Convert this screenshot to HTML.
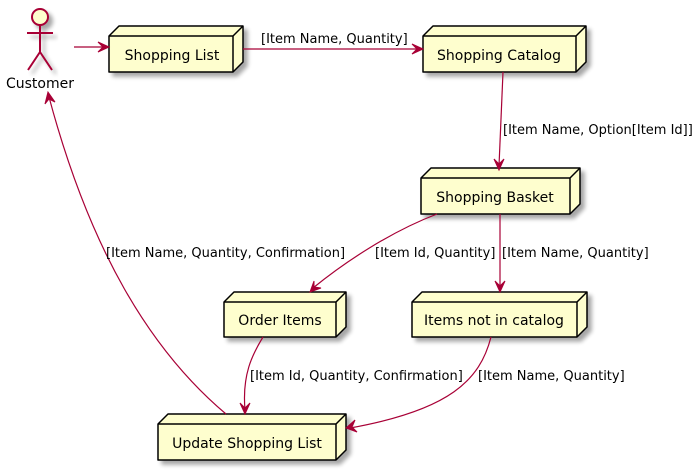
<!DOCTYPE html>
<html><head><meta charset="utf-8"><style>
html,body{margin:0;padding:0;background:#fff;}
svg{display:block;}
text{font-family:"DejaVu Sans","Liberation Sans",sans-serif;font-size:13px;fill:#000;}
text.n{font-size:14px;}
</style></head><body>
<svg width="700" height="471" viewBox="0 0 700 471" xmlns="http://www.w3.org/2000/svg">
<defs>
<filter id="sh" x="-10%" y="-10%" width="130%" height="140%">
<feGaussianBlur in="SourceAlpha" stdDeviation="2"/>
<feOffset dx="4" dy="4"/>
<feComponentTransfer><feFuncA type="linear" slope="0.35"/></feComponentTransfer>
<feMerge><feMergeNode/><feMergeNode in="SourceGraphic"/></feMerge>
</filter>
</defs>
<g fill="#FEFECE" stroke="#000" stroke-width="1.5" stroke-linejoin="round">
<g filter="url(#sh)">
<path d="M109,36 L119,26 L243,26 L243,62 L233,72 L109,72 Z"/>
<path d="M109,36 L233,36 L243,26 M233,36 L233,72" fill="none"/>
</g>
<g filter="url(#sh)">
<path d="M423,36 L433,26 L586,26 L586,62 L576,72 L423,72 Z"/>
<path d="M423,36 L576,36 L586,26 M576,36 L576,72" fill="none"/>
</g>
<g filter="url(#sh)">
<path d="M421,178 L431,168 L580,168 L580,204 L570,214 L421,214 Z"/>
<path d="M421,178 L570,178 L580,168 M570,178 L570,214" fill="none"/>
</g>
<g filter="url(#sh)">
<path d="M224,302 L234,292 L346,292 L346,327 L336,337 L224,337 Z"/>
<path d="M224,302 L336,302 L346,292 M336,302 L336,337" fill="none"/>
</g>
<g filter="url(#sh)">
<path d="M412,302 L422,292 L587,292 L587,327 L577,337 L412,337 Z"/>
<path d="M412,302 L577,302 L587,292 M577,302 L577,337" fill="none"/>
</g>
<g filter="url(#sh)">
<path d="M158,424 L168,414 L346,414 L346,450 L336,460 L158,460 Z"/>
<path d="M158,424 L336,424 L346,414 M336,424 L336,460" fill="none"/>
</g>
</g>
<g stroke="#A80036" stroke-width="2" fill="none" filter="url(#sh)">
<circle cx="40" cy="17" r="8" fill="#FEFECE"/>
<path d="M40,25 L40,52 M27,33 L53,33 M40,52 L28,70 M40,52 L52,70"/>
</g>
<text class="n" x="40" y="88" text-anchor="middle">Customer</text>
<text class="n" x="172" y="60" text-anchor="middle">Shopping List</text>
<text class="n" x="499" y="60" text-anchor="middle">Shopping Catalog</text>
<text class="n" x="495" y="202" text-anchor="middle">Shopping Basket</text>
<text class="n" x="280" y="325" text-anchor="middle">Order Items</text>
<text class="n" x="494" y="325" text-anchor="middle">Items not in catalog</text>
<text class="n" x="247" y="448" text-anchor="middle">Update Shopping List</text>
<g stroke="#A80036" stroke-width="1.2" fill="none">
<path d="M74,47 L105,47"/>
<path d="M243,49 L419,49"/>
<path d="M503,72 L499,166"/>
<path d="M437,214 C390,232 345,262 313,288"/>
<path d="M500,214 L500,288"/>
<path d="M263,337 C252,355 242,375 245,410"/>
<path d="M491,337 C480,380 450,410 350,428"/>
<path d="M226,414 C150,350 90,250 49,97"/>
</g>
<g fill="#A80036" stroke="#A80036" stroke-width="1" stroke-linejoin="miter">
<path d="M109,47 L98,42 L103,47 L98,52 Z"/>
<path d="M423,49 L412,44 L417,49 L412,54 Z"/>
<path d="M499,170 L494,159 L499,164 L504,159 Z"/>
<path d="M310,292 L314,281 L314,287 L321,288 Z"/>
<path d="M500,292 L495,281 L500,286 L505,281 Z"/>
<path d="M245,414 L240,403 L245,408 L250,403 Z"/>
<path d="M346,428 L355,420 L352,427 L357,432 Z"/>
<path d="M48,92 L45,104 L49,99 L55,102 Z"/>
</g>
<text x="261" y="43">[Item Name, Quantity]</text>
<text x="503" y="134">[Item Name, Option[Item Id]]</text>
<text x="106" y="257">[Item Name, Quantity, Confirmation]</text>
<text x="375" y="257">[Item Id, Quantity]</text>
<text x="502" y="257">[Item Name, Quantity]</text>
<text x="250" y="380">[Item Id, Quantity, Confirmation]</text>
<text x="478" y="380">[Item Name, Quantity]</text>
</svg>
</body></html>
